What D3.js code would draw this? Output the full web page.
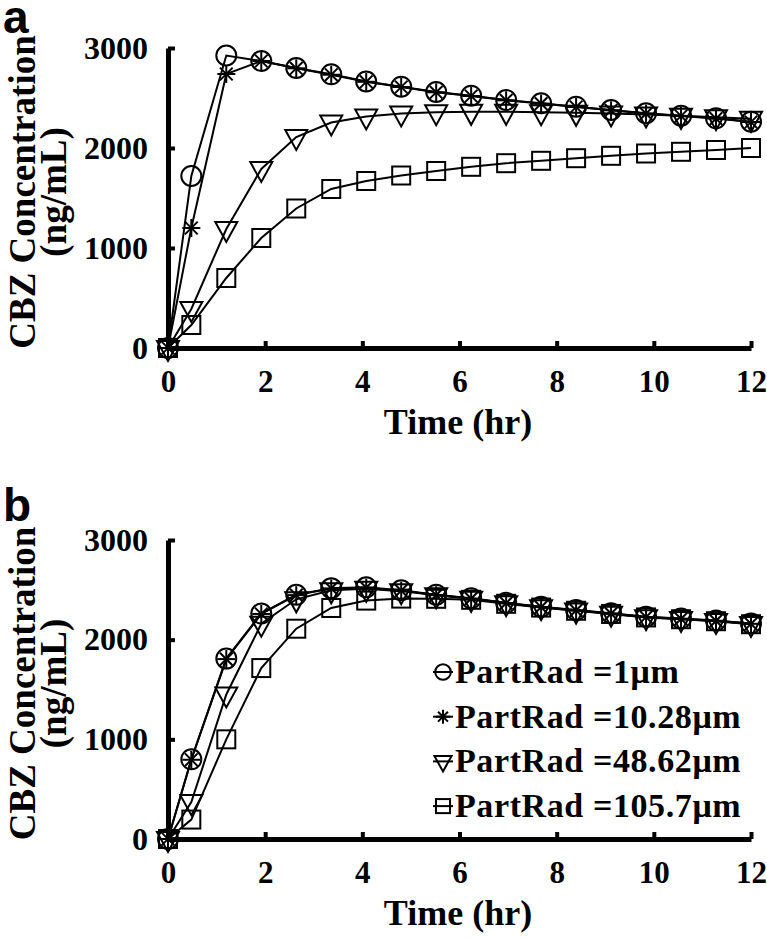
<!DOCTYPE html>
<html>
<head>
<meta charset="utf-8">
<script src="https://cdn.jsdelivr.net/npm/d3@7"></script>
<style>
  html, body { margin: 0; padding: 0; background: #fff; }
  svg { display: block; }
</style>
</head>
<body>
<svg id="chart" width="767" height="939"></svg>
<script>
// ---- data ----
const times = [0, 0.48, 1.2, 1.92, 2.64, 3.36, 4.08, 4.8, 5.52, 6.24, 6.96, 7.68, 8.4, 9.12, 9.84, 10.56, 11.28, 12];
const xTicks = [0, 2, 4, 6, 8, 10, 12];
const yTicks = [0, 1000, 2000, 3000];
const seriesNames = ["PartRad =1\u03bcm", "PartRad =10.28\u03bcm", "PartRad =48.62\u03bcm", "PartRad =105.7\u03bcm"];
const seriesSymbols = ["circle", "star", "triangle", "square"];

// panel a
const aRad1   = [0, 1720, 2925, 2870, 2800, 2737, 2665, 2613, 2560, 2523, 2480, 2447, 2413, 2380, 2347, 2323, 2297, 2263];
const aRad10  = [0, 1200, 2740, 2870, 2797, 2733, 2662, 2610, 2557, 2520, 2477, 2444, 2410, 2377, 2344, 2320, 2294, 2260];
const aRad48  = [0, 390, 1190, 1790, 2110, 2255, 2315, 2345, 2358, 2362, 2362, 2358, 2352, 2345, 2335, 2322, 2308, 2292];
const aRad105 = [0, 230, 700, 1100, 1395, 1590, 1670, 1725, 1770, 1812, 1848, 1872, 1898, 1922, 1945, 1962, 1980, 2000];

// panel b
const bRad1   = [0, 800, 1810, 2262, 2450, 2517, 2525, 2495, 2450, 2415, 2370, 2330, 2297, 2265, 2230, 2212, 2192, 2162];
const bRad10  = [0, 795, 1805, 2258, 2447, 2514, 2522, 2492, 2447, 2412, 2367, 2327, 2294, 2262, 2227, 2209, 2189, 2159];
const bRad48  = [0, 370, 1450, 2160, 2405, 2495, 2510, 2487, 2445, 2410, 2365, 2325, 2292, 2260, 2225, 2207, 2187, 2157];
const bRad105 = [0, 195, 1000, 1715, 2110, 2318, 2392, 2412, 2410, 2400, 2360, 2322, 2290, 2258, 2223, 2205, 2185, 2155];

// ---- drawing ----
const svg = d3.select("#chart");
const SERIF = "font-family:'Liberation Serif','Times New Roman',serif;font-weight:bold;fill:#000;";
const SANS = "font-family:'Liberation Sans',Arial,sans-serif;font-weight:bold;fill:#000;";

function drawMarker(g, type, cx, cy, s) {
  const sw = 2;
  if (type === "circle") {
    g.append("circle").attr("cx", cx).attr("cy", cy).attr("r", 10 * s)
      .attr("fill", "none").attr("stroke", "#000").attr("stroke-width", sw);
  } else if (type === "square") {
    const h = 9 * s;
    g.append("rect").attr("x", cx - h).attr("y", cy - h).attr("width", 2 * h).attr("height", 2 * h)
      .attr("fill", "none").attr("stroke", "#000").attr("stroke-width", sw);
  } else if (type === "triangle") {
    const w = 11 * s, up = 7 * s, down = 13 * s;
    g.append("path").attr("d", `M${cx - w},${cy - up}L${cx + w},${cy - up}L${cx},${cy + down}Z`)
      .attr("fill", "none").attr("stroke", "#000").attr("stroke-width", sw);
  } else if (type === "star") {
    const r = 9 * s;
    [0, 45, 90, 135].forEach(a => {
      const rad = a * Math.PI / 180;
      g.append("line")
        .attr("x1", cx - r * Math.cos(rad)).attr("y1", cy - r * Math.sin(rad))
        .attr("x2", cx + r * Math.cos(rad)).attr("y2", cy + r * Math.sin(rad))
        .attr("stroke", "#000").attr("stroke-width", sw);
    });
  }
}

function drawPanel(cfg) {
  const g = svg.append("g");
  const x = d3.scaleLinear().domain([0, 12]).range([168, 751]);
  const y = d3.scaleLinear().domain([0, 3000]).range([cfg.bottom, cfg.top]);

  // y axis
  const yAxis = d3.axisLeft(y).tickValues(yTicks).tickFormat(d3.format("d"))
    .tickSizeInner(-7).tickSizeOuter(0).tickPadding(20);
  const ya = g.append("g").attr("transform", `translate(${x(0)},0)`).call(yAxis);
  ya.select(".domain").attr("stroke", "#000").attr("stroke-width", 5);
  ya.selectAll(".tick line").attr("stroke", "#000").attr("stroke-width", 4);
  ya.selectAll(".tick text").attr("style", SERIF + "font-size:32px;");

  // x axis
  const xAxis = d3.axisBottom(x).tickValues(xTicks).tickFormat(d3.format("d"))
    .tickSizeInner(-7).tickSizeOuter(0).tickPadding(22);
  const xa = g.append("g").attr("transform", `translate(0,${y(0)})`).call(xAxis);
  xa.select(".domain").attr("stroke", "#000").attr("stroke-width", 5);
  xa.selectAll(".tick line").attr("stroke", "#000").attr("stroke-width", 4);
  xa.selectAll(".tick text").attr("style", SERIF + "font-size:31px;");

  // series lines, then markers
  const line = d3.line().x((d, i) => x(times[i])).y(d => y(d));
  cfg.series.forEach(vals => {
    g.append("path").attr("d", line(vals)).attr("fill", "none")
      .attr("stroke", "#000").attr("stroke-width", 2);
  });
  cfg.series.forEach((vals, si) => {
    const mg = g.append("g");
    vals.forEach((v, i) => drawMarker(mg, seriesSymbols[si], x(times[i]), y(v), 1));
  });

  // axis titles
  const cy = (cfg.top + cfg.bottom) / 2 - 6;
  g.append("text").attr("transform", `translate(35,${cy}) rotate(-90)`)
    .attr("text-anchor", "middle").attr("style", SERIF + "font-size:37px;").text("CBZ Concentration");
  g.append("text").attr("transform", `translate(66,${cy}) rotate(-90)`)
    .attr("text-anchor", "middle").attr("style", SERIF + "font-size:37px;").text("(ng/mL)");
  g.append("text").attr("x", 458).attr("y", cfg.bottom + 86)
    .attr("text-anchor", "middle").attr("style", SERIF + "font-size:36px;").text("Time (hr)");

  // panel label
  g.append("text").attr("x", 3).attr("y", cfg.labelY)
    .attr("style", SANS + "font-size:46px;").text(cfg.label);

  return { g, x, y };
}

drawPanel({ top: 48, bottom: 348, labelY: 33, label: "a", series: [aRad1, aRad10, aRad48, aRad105] });
drawPanel({ top: 540, bottom: 839, labelY: 521, label: "b", series: [bRad1, bRad10, bRad48, bRad105] });

// legend in panel b
const leg = svg.append("g");
seriesNames.forEach((name, i) => {
  const by = 683 + i * 44.7;
  const cy = by - 11;
  leg.append("line").attr("x1", 433).attr("x2", 453).attr("y1", cy).attr("y2", cy)
    .attr("stroke", "#000").attr("stroke-width", 2);
  drawMarker(leg, seriesSymbols[i], 443, cy, 0.78);
  leg.append("text").attr("x", 455).attr("y", by)
    .attr("style", SERIF + "font-size:34px;letter-spacing:0.6px;").text(name);
});
</script>
</body>
</html>
